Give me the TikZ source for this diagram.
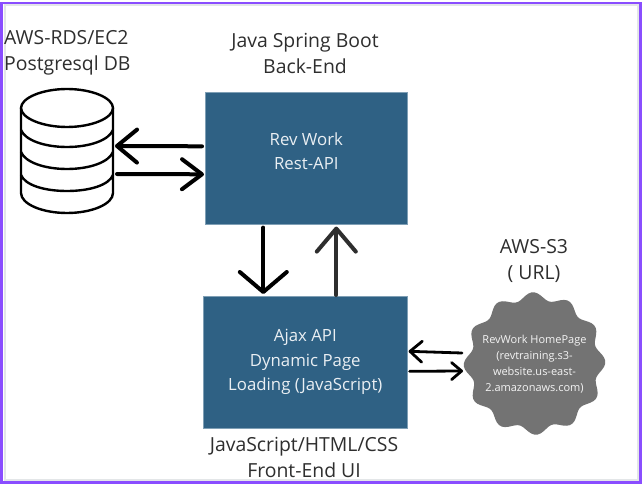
\documentclass[tikz,border=0pt]{standalone}
\usepackage{fontspec}
\setmainfont{Open Sans}
\usetikzlibrary{arrows.meta}
\definecolor{boxblue}{HTML}{2F6184}
\definecolor{boxedge}{HTML}{7F9FB5}
\definecolor{cloudgrey}{HTML}{737373}
\definecolor{framepurple}{HTML}{8A4DFF}
\definecolor{framegrey}{HTML}{E3E6E8}
\definecolor{inktext}{HTML}{2E2E2E}
\tikzset{
  x=1pt,y=-1pt,
  label text/.style={font=\fontsize{19.4}{26}\selectfont,text=inktext,align=center,inner sep=0pt},
  bluebox/.style={draw=boxedge,line width=0.6pt,fill=boxblue,text=white!90!boxblue,font=\fontsize{16.8}{24.5}\selectfont,align=center,inner sep=0pt,anchor=north west},
  bigarrow/.style args={#1 and #2}{line width=4pt,line cap=round,-{Straight Barb[length=#1pt,width=#2pt,line width=4pt,round]}},
  smallarrow/.style args={#1 and #2}{line width=2.8pt,line cap=round,-{Straight Barb[length=#1pt,width=#2pt,line width=2.8pt,round]}},
  dbline/.style={line width=2.4pt,black,line join=round},
  ghost/.style={inner sep=0pt,outer sep=0pt},
}
\begin{document}
\begin{tikzpicture}
\useasboundingbox (0,0) rectangle (643,484);
\fill[white] (0,0) rectangle (643,484);
\draw[framegrey,line width=2pt] (4.5,5) rectangle (638,480);
\draw[framepurple,line width=2.4pt] (1.5,3) rectangle (640.5,482.5);

% database
\node[ghost,minimum width=92pt,minimum height=124pt] (db) at (67,151) {};
\draw[dbline] (21,108) .. controls (21,98) and (42,89) .. (67,89) .. controls (92,89) and (113,98) .. (113,108) .. controls (113,118) and (92,127) .. (67,127) .. controls (42,127) and (21,118) .. (21,108) -- cycle;
\draw[dbline] (21,108) -- (21,193) .. controls (21,204) and (42,213) .. (67,213) .. controls (92,213) and (113,204) .. (113,193) -- (113,108);
\draw[dbline] (21,130) .. controls (25,140) and (44,147) .. (67,147) .. controls (90,147) and (109,140) .. (113,130);
\draw[dbline] (21,152) .. controls (25,162) and (44,169) .. (67,169) .. controls (90,169) and (109,162) .. (113,152);
\draw[dbline] (21,175) .. controls (25,185) and (44,191) .. (67,191) .. controls (90,191) and (109,185) .. (113,175);

% boxes
\node[bluebox,minimum width=202pt,minimum height=132pt] (api) at (205,92) {Rev Work\\Rest-API\\[-10.5pt]\mbox{}};
\node[bluebox,minimum width=204pt,minimum height=132pt] (ajax) at (203,296) {Ajax API\\Dynamic Page\\Loading (JavaScript)};

% wavy badge
\fill[cloudgrey,smooth] plot[domain=0:360,samples=145,variable=\t] ({534.5+(67+3.8*cos(12*\t+15))*cos(\t)},{363.5+(67.5+3.8*cos(12*\t+15))*sin(\t)}) -- cycle;
\node[ghost,minimum width=139pt,minimum height=142pt,align=center,text=white!92!cloudgrey,font=\fontsize{11}{16}\selectfont] (s3) at (534.5,364)
  {\raisebox{3pt}{\parbox{139pt}{\centering RevWork HomePage\\(revtraining.s3-\\website.us-east-\\2.amazonaws.com)}}};

% labels
\node[label text,anchor=west,align=left] (dblabel) at (4,53) {AWS-RDS/EC2\\Postgresql DB};
\node[label text] (apilabel) at (305,53) {Java Spring Boot\\Back-End};
\node[label text] (ajaxlabel) at (304,457) {JavaScript/HTML/CSS\\Front-End UI};
\node[label text] (s3label) at (534,261) {AWS-S3\\( URL)};

% connectors
\draw[bigarrow={20 and 33}] ([yshift=12pt,xshift=-3pt]api.west) -- ([yshift=5pt,xshift=2pt]db.east);
\draw[bigarrow={20 and 30}] ([yshift=-23pt,xshift=4pt]db.east) -- ([yshift=-16pt,xshift=-1pt]api.west);
\draw[bigarrow={20 and 47}] ([xshift=-43pt,yshift=-3pt]api.south) -- ([xshift=-42pt,yshift=2pt]ajax.north);
\draw[bigarrow={23 and 39},inktext] ([xshift=31pt,yshift=1pt]ajax.north) -- ([xshift=30pt,yshift=-2pt]api.south);
\draw[smallarrow={12 and 21}] ([yshift=11pt,xshift=-3pt]s3.west) -- ([yshift=11pt,xshift=1pt]ajax.east);
\draw[smallarrow={10 and 17}] ([yshift=-9pt,xshift=2pt]ajax.east) -- ([yshift=-7pt,xshift=-2pt]s3.west);
\end{tikzpicture}
\end{document}
